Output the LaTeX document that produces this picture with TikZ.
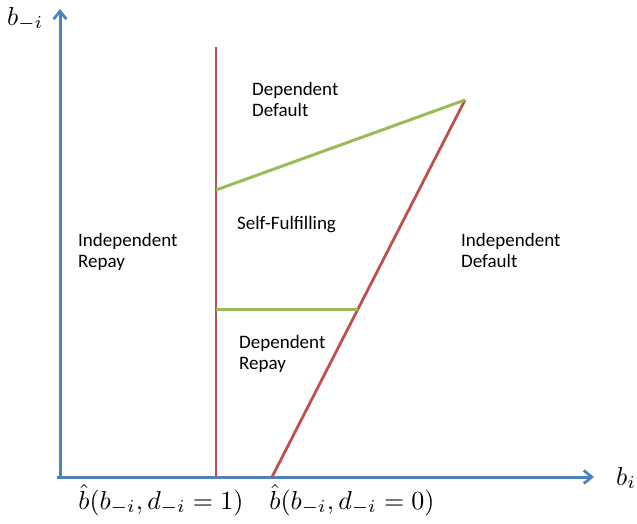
\documentclass[tikz,border=0pt]{standalone}
\usepackage{fontspec}
\setmainfont{Carlito}
\usepackage{amsmath}
\usetikzlibrary{arrows.meta}
\definecolor{axblue}{RGB}{79,129,189}
\definecolor{lnred}{RGB}{192,80,77}
\definecolor{lngreen}{RGB}{155,187,89}
\newcommand{\bigmath}[1]{\scalebox{2.6}{$#1$}}
\begin{document}
\begin{tikzpicture}[x=1pt,y=-1pt,
  axis/.style={draw=axblue,line width=3pt,-{Straight Barb[length=8pt,width=13pt,line width=2.8pt]}},
  redline/.style={draw=lnred,line width=2.8pt},
  greenline/.style={draw=lngreen,line width=3pt},
  region/.style={anchor=north west,align=left,font=\fontsize{19}{21.5}\selectfont,inner sep=0pt},
  mathlbl/.style={inner sep=0pt}]
\useasboundingbox (0,0) rectangle (637,523);
\coordinate (O) at (60,477);
\coordinate (ytop) at (60,9);
\coordinate (xend) at (594,477);
\coordinate (vtop) at (216,47);
\coordinate (vbot) at (216,477);
\coordinate (dbot) at (272,477);
\coordinate (dtop) at (465,100);
\coordinate (gup) at (216,190);
\coordinate (glo) at (216,309);
\coordinate (gloR) at (358,309);
\draw[axis] (O) -- (ytop);
\draw[axis] (57,477) -- (xend);
\draw[redline] (vbot) -- (vtop);
\draw[redline] (dbot) -- (dtop);
\draw[greenline] (gup) -- (dtop);
\draw[greenline] (glo) -- (gloR);
\node[mathlbl,anchor=base west] (ylab) at (7,25) {\bigmath{b_{-i}}};
\node[mathlbl,anchor=base west] (xlab) at (616,485) {\bigmath{b_i}};
\node[mathlbl,anchor=base] (bh1) at (161,509) {\bigmath{\hat{b}(b_{-i},d_{-i}=1)}};
\node[mathlbl,anchor=base] (bh0) at (352,509) {\bigmath{\hat{b}(b_{-i},d_{-i}=0)}};
\node[region] (dd) at (252,82) {Dependent\\Default};
\node[region] (sf) at (237,216) {Self-Fulfilling};
\node[region] (ir) at (78,233) {Independent\\Repay};
\node[region] (id) at (461,233) {Independent\\Default};
\node[region] (dr) at (239,335) {Dependent\\Repay};
\end{tikzpicture}
\end{document}
